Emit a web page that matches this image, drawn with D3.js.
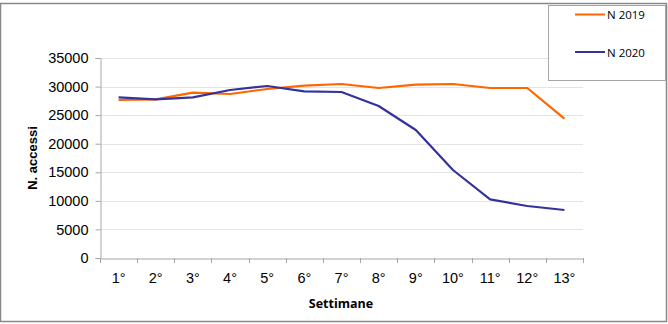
<!DOCTYPE html>
<html><head><meta charset="utf-8">
<script src="https://cdn.jsdelivr.net/npm/d3@7"></script>
<style>body{margin:0;background:#fff}svg{display:block}</style>
</head><body>
<script>
const categories = ["1°","2°","3°","4°","5°","6°","7°","8°","9°","10°","11°","12°","13°"];
const n2019 = [27650,27770,28930,28700,29580,30160,30450,29750,30330,30450,29750,29750,24380];
const n2020 = [28120,27770,28120,29400,30100,29170,29050,26600,22400,15400,10270,9100,8400];
const yTicks = [0,5000,10000,15000,20000,25000,30000,35000];
const seriesNames = ["N 2019","N 2020"];
const colors = ["#FF6600","#333399"];

(function(){
const W=668,H=324;
const svg=d3.select("body").append("svg").attr("width",W).attr("height",H);
svg.append("rect").attr("width",W).attr("height",H).attr("fill","#fff");
svg.append("rect").attr("x",0.5).attr("y",3.5).attr("width",666).attr("height",318)
  .attr("fill","none").attr("stroke","#888").attr("stroke-width",1.5);

const pl=100,pr=583,pt=58,pb=258;
const x=d3.scaleBand().domain(categories).range([pl,pr]);
const y=d3.scaleLinear().domain([0,35000]).range([pb,pt]);

svg.append("g").selectAll("line").data(yTicks.filter(d=>d>0)).join("line")
  .attr("x1",pl).attr("x2",pr).attr("y1",d=>Math.round(y(d))+0.5).attr("y2",d=>Math.round(y(d))+0.5)
  .attr("stroke","#e4e4e4").attr("stroke-width",1);

const ya=svg.append("g").attr("transform",`translate(${pl+0.5},0)`)
  .call(d3.axisLeft(y).tickValues(yTicks).tickSize(5).tickPadding(7).tickFormat(d3.format("d")));
ya.selectAll("path,line").attr("stroke","#a6a6a6");
ya.selectAll("text").attr("font-family","Liberation Sans, Arial, sans-serif").attr("font-size",14.5).attr("fill","#000");

const xa=svg.append("g").attr("transform",`translate(0,${pb+0.5})`)
  .call(d3.axisBottom(x).tickSize(0).tickPadding(14));
xa.select("path").attr("stroke","#a6a6a6");
xa.selectAll("text").attr("font-family","Liberation Sans, Arial, sans-serif").attr("font-size",14.5).attr("fill","#000");
const bounds=categories.map(c=>x(c)).concat([x(categories[categories.length-1])+x.bandwidth()]);
svg.append("g").selectAll("line").data(bounds).join("line")
  .attr("x1",d=>Math.round(d)+0.5).attr("x2",d=>Math.round(d)+0.5).attr("y1",pb).attr("y2",pb+5)
  .attr("stroke","#a6a6a6");

const line=d3.line().x((d,i)=>x(categories[i])+x.bandwidth()/2).y(d=>y(d));
[n2019,n2020].forEach((s,i)=>{
  svg.append("path").datum(s).attr("d",line).attr("fill","none")
    .attr("stroke",colors[i]).attr("stroke-width",2.2).attr("stroke-linejoin","round");
});

svg.append("text").attr("x",341).attr("y",308).attr("text-anchor","middle")
  .attr("font-family","Open Sans, sans-serif").attr("font-weight","bold").attr("font-size",12.5).text("Settimane");
svg.append("text").attr("transform","translate(37,158) rotate(-90)").attr("text-anchor","middle")
  .attr("font-family","Liberation Sans, Arial, sans-serif").attr("font-weight","bold").attr("font-size",13).text("N. accessi");

svg.append("rect").attr("x",548.5).attr("y",5.5).attr("width",117).attr("height",75)
  .attr("fill","#fff").attr("stroke","#a6a6a6");
const lg=svg.append("g").selectAll("g").data(seriesNames).join("g")
  .attr("transform",(d,i)=>`translate(0,${14.5+i*37.5})`);
lg.append("line").attr("x1",575).attr("x2",605).attr("stroke",(d,i)=>colors[i]).attr("stroke-width",2);
lg.append("text").attr("x",607).attr("y",4.5).attr("font-family","Open Sans, sans-serif")
  .attr("font-size",11.5).attr("fill","#000").text(d=>d);
})();
</script>
</body></html>
